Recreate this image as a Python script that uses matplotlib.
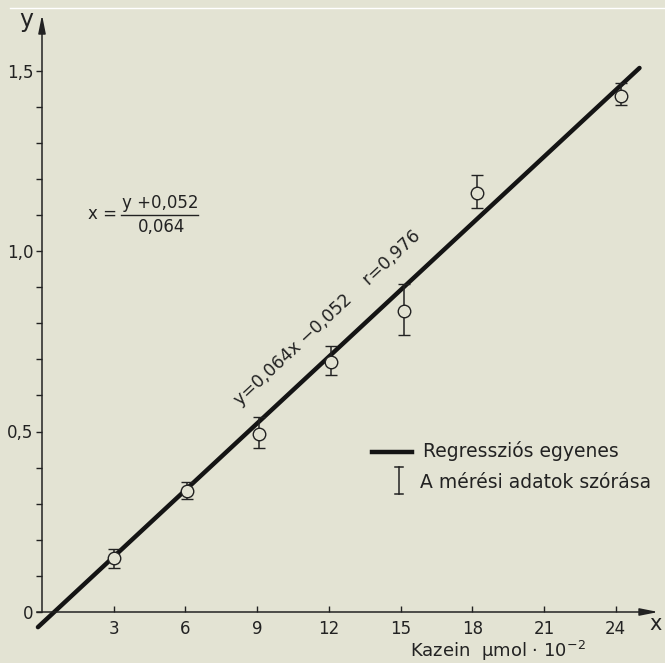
import matplotlib
matplotlib.use("Agg")
import matplotlib.pyplot as plt
from matplotlib.lines import Line2D
import numpy as np

# ---- data ----
conc = [3.0, 6.05, 9.09, 12.09, 15.15, 18.19, 24.23]
absorb = [0.150, 0.336, 0.493, 0.692, 0.834, 1.161, 1.429]
err_low = [0.028, 0.023, 0.038, 0.035, 0.067, 0.043, 0.025]
err_high = [0.024, 0.025, 0.047, 0.046, 0.075, 0.050, 0.036]
reg_x = [-0.17, 25.0]
reg_y = [-0.042, 1.507]
xticks = [3, 6, 9, 12, 15, 18, 21, 24]
yticks = [0, 0.5, 1.0, 1.5]
yticklabels = ["0", "0,5", "1,0", "1,5"]
yminor = [0.1, 0.2, 0.3, 0.4, 0.6, 0.7, 0.8, 0.9, 1.1, 1.2, 1.3, 1.4]

BG = "#e3e3d3"
INK = "#222222"
W, H = 665, 663

plt.rcParams['font.family'] = ['DejaVu Sans']
fig = plt.figure(figsize=(W / 100, H / 100), dpi=100, facecolor=BG)

def fx(px):
    return px / W

def fy(py):
    return 1 - py / H

# axes: x data 0 -> px 42, 23.9 px/unit ; y data 0 -> px 612, 361 px/unit
xl0, xl1 = -0.3, 25.95
yl0, yl1 = -0.06, 1.662
left_px = 42 + 23.9 * xl0
right_px = 42 + 23.9 * xl1
bot_px = 612 - 361 * yl0
top_px = 612 - 361 * yl1
ax = fig.add_axes([fx(left_px), fy(bot_px), fx(right_px) - fx(left_px), fy(top_px) - fy(bot_px)])
ax.set_facecolor(BG)
ax.set_xlim(xl0, xl1)
ax.set_ylim(yl0, yl1)

for s in ["top", "right"]:
    ax.spines[s].set_visible(False)
ax.spines["left"].set_position(("data", 0))
ax.spines["bottom"].set_position(("data", 0))
ax.spines["left"].set_bounds(0, yl1 - 0.03)
ax.spines["bottom"].set_bounds(-0.2, xl1 - 0.5)
for s in ["left", "bottom"]:
    ax.spines[s].set_color(INK)
    ax.spines[s].set_linewidth(1.1)

# arrows
ax.annotate("", xy=(0, yl1), xytext=(0, yl1 - 0.06), xycoords="data",
            arrowprops=dict(arrowstyle="-|>,head_length=1.1,head_width=0.22", color=INK, lw=1.1),
            annotation_clip=False)
ax.annotate("", xy=(xl1 - 0.05, 0), xytext=(xl1 - 1.0, 0), xycoords="data",
            arrowprops=dict(arrowstyle="-|>,head_length=1.1,head_width=0.22", color=INK, lw=1.1),
            annotation_clip=False)

ax.set_xticks(xticks)
ax.set_xticklabels([str(t) for t in xticks])
ax.set_yticks(yticks)
ax.set_yticklabels(yticklabels)
ax.set_yticks(yminor, minor=True)
ax.tick_params(axis="x", direction="in", length=4, width=1, color=INK, pad=6,
               labelsize=12, labelcolor=INK)
ax.tick_params(axis="y", which="both", direction="out", length=4, width=1, color=INK, pad=2,
               labelsize=12, labelcolor=INK)

# regression line
ax.plot(reg_x, reg_y, color="#141414", lw=3.2, solid_capstyle="round", zorder=2)

# data points with error bars
ax.errorbar(conc, absorb, yerr=[err_low, err_high], fmt="o", ms=9, mfc=BG, mec=INK,
            mew=1.0, ecolor=INK, elinewidth=1.1, capsize=4.5, capthick=1.1, zorder=3)

# axis letters and label
fig.text(fx(26), fy(20), "y", fontsize=17, color=INK, ha="center", va="center")
fig.text(fx(656), fy(624), "x", fontsize=15, color=INK, ha="center", va="center")
fig.text(fx(410), fy(651), "Kazein  \u00b5mol \u00b7 10$^{-2}$", fontsize=13, color=INK,
         ha="left", va="center")

# formula for x
fig.text(fx(117), fy(214), "x =", fontsize=12, color=INK, ha="right", va="center")
fig.text(fx(160), fy(203), "y +0,052", fontsize=12, color=INK, ha="center", va="center")
fig.text(fx(162), fy(227), "0,064", fontsize=12, color=INK, ha="center", va="center")
fig.add_artist(Line2D([fx(121), fx(198)], [fy(215), fy(215)], color=INK, lw=1.0))

# equation along the line
fig.text(fx(327), fy(318), "y=0,064x \u22120,052    r=0,976", fontsize=12.5, color=INK,
         rotation=43, rotation_mode="anchor", ha="center", va="center")

# legend (hand placed)
fig.add_artist(Line2D([fx(372), fx(412)], [fy(452), fy(452)], color="#141414", lw=3.2))
fig.add_artist(Line2D([fx(399), fx(399)], [fy(467), fy(494)], color=INK, lw=1.1))
fig.add_artist(Line2D([fx(395), fx(403)], [fy(467), fy(467)], color=INK, lw=1.1))
fig.add_artist(Line2D([fx(395), fx(403)], [fy(494), fy(494)], color=INK, lw=1.1))
fig.text(fx(423), fy(451), "Regressziós egyenes", fontsize=13.5, color=INK, ha="left", va="center")
fig.text(fx(420), fy(483), "A mérési adatok szórása", fontsize=13.5, color=INK, ha="left", va="center")

# scan artifact line at top
fig.add_artist(Line2D([fx(10), fx(665)], [fy(8), fy(8)], color="white", lw=1.0))

fig.savefig("out.png", dpi=100, facecolor=BG)
